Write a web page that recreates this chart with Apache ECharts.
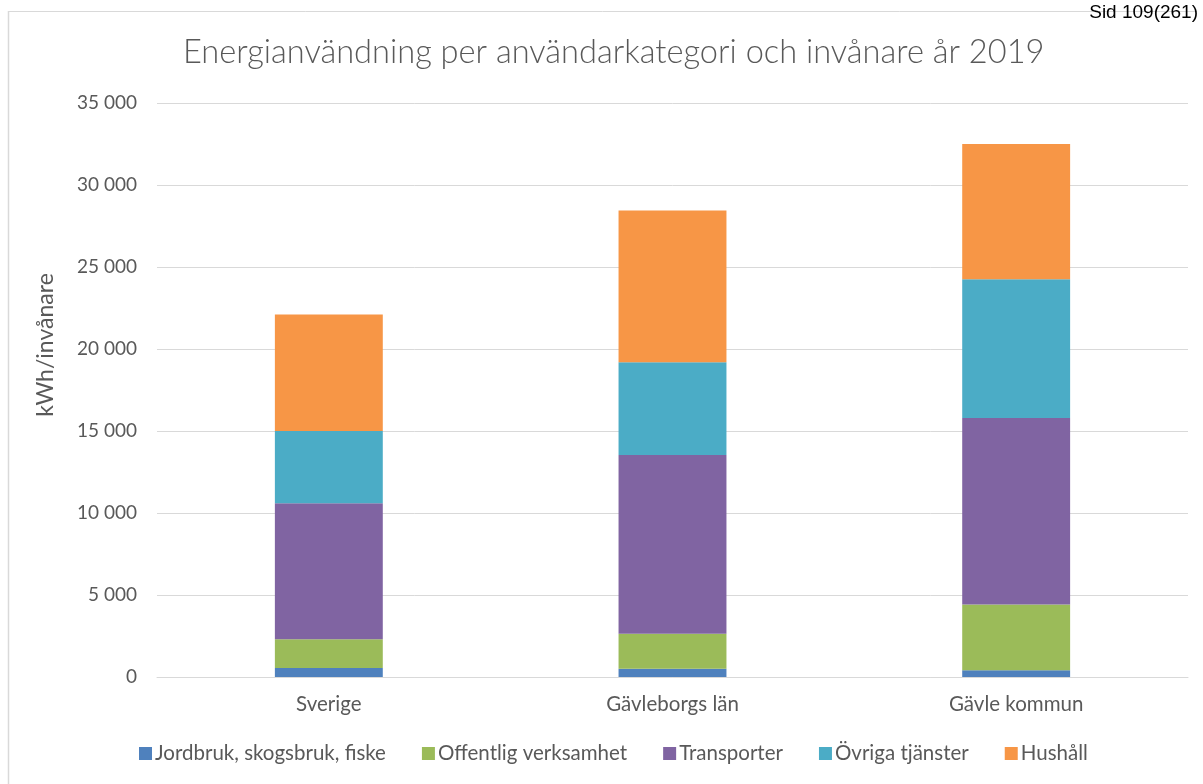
<!DOCTYPE html>
<html>
<head>
<meta charset="utf-8">
<script src="https://cdn.jsdelivr.net/npm/echarts@6/dist/echarts.min.js"></script>
<style>
html,body{margin:0;padding:0;background:#fff;}
#chart{width:1203px;height:784px;}
</style>
</head>
<body>
<div id="chart"></div>
<script>
const categories = ['Sverige', 'Gävleborgs län', 'Gävle kommun'];
const seriesNames = ['Jordbruk, skogsbruk, fiske', 'Offentlig verksamhet', 'Transporter', 'Övriga tjänster', 'Hushåll'];
const jordbruk = [550, 510, 410];
const offentlig = [1750, 2130, 4010];
const transporter = [8300, 10890, 11380];
const ovriga = [4400, 5660, 8450];
const hushall = [7100, 9260, 8250];
const colors = ['#4F81BD', '#9BBB59', '#8064A2', '#4BACC6', '#F79646'];
const yTicks = { min: 0, max: 35000, interval: 5000 };

const dataSets = [jordbruk, offentlig, transporter, ovriga, hushall];
const FONT = 'Lato';
const TXT = '#595959';

const chart = echarts.init(document.getElementById('chart'), null, { renderer: 'canvas' });
chart.setOption({
  backgroundColor: '#fff',
  animation: false,
  title: {
    text: 'Energianvändning per användarkategori och invånare år 2019',
    left: 178,
    top: 31,
    textStyle: { fontFamily: FONT, fontSize: 32.6, fontWeight: 300, color: TXT }
  },
  graphic: [
    { type: 'line', shape: { x1: 8, y1: 11.5, x2: 1197, y2: 11.5 }, style: { stroke: '#d9d9d9', lineWidth: 1 } },
    { type: 'line', shape: { x1: 8.5, y1: 11, x2: 8.5, y2: 790 }, style: { stroke: '#d9d9d9', lineWidth: 1.5 } },
    { type: 'text', right: 5, top: 3, style: { text: 'Sid 109(261)', fontFamily: 'Liberation Sans', fontSize: 19, fill: '#000' } },
    { type: 'text', x: 46, y: 345, rotation: Math.PI / 2, style: { text: 'kWh/invånare', fontFamily: FONT, fontSize: 23, fill: TXT, align: 'center', verticalAlign: 'middle' } }
  ],
  legend: {
    data: seriesNames,
    bottom: 15,
    left: 134,
    itemWidth: 13,
    itemHeight: 13,
    itemGap: 36,
    icon: 'rect',
    textStyle: { fontFamily: FONT, fontSize: 20.5, color: TXT, padding: [0, 0, 0, -2] }
  },
  grid: { left: 157, right: 15, top: 103, bottom: 107, containLabel: false },
  xAxis: {
    type: 'category',
    data: categories,
    axisLine: { lineStyle: { color: '#d9d9d9', width: 1 } },
    axisTick: { show: false },
    axisLabel: { fontFamily: FONT, fontSize: 20.5, color: TXT, margin: 17 }
  },
  yAxis: {
    type: 'value',
    min: yTicks.min,
    max: yTicks.max,
    interval: yTicks.interval,
    axisLine: { show: false },
    axisTick: { show: false },
    splitLine: { lineStyle: { color: '#d9d9d9', width: 1 } },
    axisLabel: {
      fontFamily: FONT, fontSize: 19, color: TXT, margin: 20,
      formatter: v => String(v).replace(/\B(?=(\d{3})+(?!\d))/g, ' ')
    }
  },
  series: seriesNames.map((name, i) => ({
    name,
    type: 'bar',
    stack: 'total',
    barWidth: '31.4%',
    data: dataSets[i],
    itemStyle: { color: colors[i] }
  }))
});
</script>
</body>
</html>
